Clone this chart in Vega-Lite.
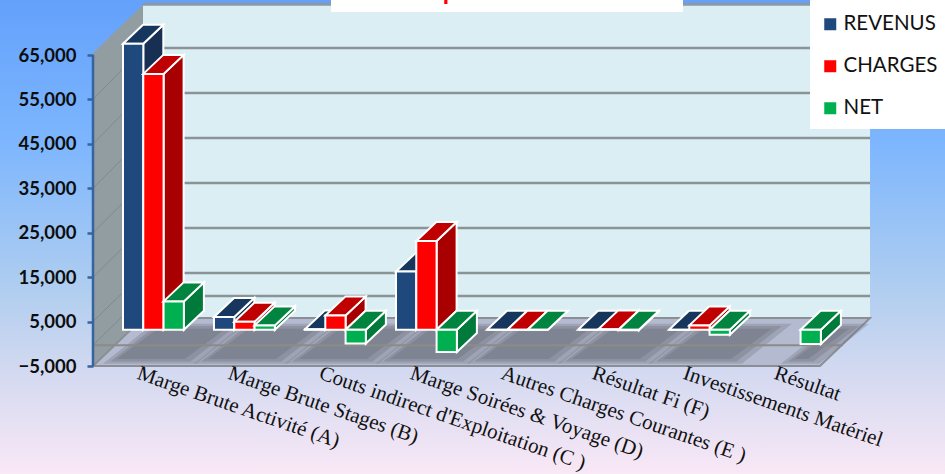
{
"$schema":"https://vega.github.io/schema/vega-lite/v6.json",
"width":945,"height":474,
"autosize":{"type":"none"},
"padding":0,
"datasets":{
"bars":[
{"category":"Marge Brute Activité  (A)","series":"REVENUS","value":64400},
{"category":"Marge Brute Activité  (A)","series":"CHARGES","value":57600},
{"category":"Marge Brute Activité  (A)","series":"NET","value":6400},
{"category":"Marge Brute Stages (B)","series":"REVENUS","value":2900},
{"category":"Marge Brute Stages (B)","series":"CHARGES","value":1800},
{"category":"Marge Brute Stages (B)","series":"NET","value":1000},
{"category":"Couts indirect d'Exploitation (C )","series":"REVENUS","value":100},
{"category":"Couts indirect d'Exploitation (C )","series":"CHARGES","value":3200},
{"category":"Couts indirect d'Exploitation (C )","series":"NET","value":-3100},
{"category":"Marge Soirées & Voyage (D)","series":"REVENUS","value":13100},
{"category":"Marge Soirées & Voyage (D)","series":"CHARGES","value":20000},
{"category":"Marge Soirées & Voyage (D)","series":"NET","value":-5000},
{"category":"Autres Charges Courantes (E )","series":"REVENUS","value":0},
{"category":"Autres Charges Courantes (E )","series":"CHARGES","value":0},
{"category":"Autres Charges Courantes (E )","series":"NET","value":0},
{"category":"Résultat Fi (F)","series":"REVENUS","value":0},
{"category":"Résultat Fi (F)","series":"CHARGES","value":100},
{"category":"Résultat Fi (F)","series":"NET","value":-100},
{"category":"Investissements Matériel","series":"REVENUS","value":0},
{"category":"Investissements Matériel","series":"CHARGES","value":1000},
{"category":"Investissements Matériel","series":"NET","value":-1100},
{"category":"Résultat","series":"NET","value":-3200}
],
"page":[{"x":-1.3516,"x2":9.033,"y":-29300,"y2":77380}],
"wall":[{"x":0.2198,"x2":8.209,"y":5800,"y2":76250}],
"sidewall":[{"x":-0.3297,"y":-5000,"y2":65450},{"x":0.2198,"y":5800,"y2":76250}],
"floor":[{"y":-5000,"x":-0.3297,"x2":7.659},{"y":5800,"x":0.2198,"x2":8.209}],
"grid":[{"y":66580},{"y":56450},{"y":46320},{"y":36190},{"y":26060},{"y":15940},{"y":10760}],
"diag":[
{"t":55000,"x":-0.3297,"y":55000},{"t":55000,"x":0.2198,"y":66580},
{"t":45000,"x":-0.3297,"y":45000},{"t":45000,"x":0.2198,"y":56450},
{"t":35000,"x":-0.3297,"y":35000},{"t":35000,"x":0.2198,"y":46320},
{"t":25000,"x":-0.3297,"y":25000},{"t":25000,"x":0.2198,"y":36190},
{"t":15000,"x":-0.3297,"y":15000},{"t":15000,"x":0.2198,"y":26060},
{"t":5000,"x":-0.3297,"y":5000},{"t":5000,"x":0.2198,"y":15940},
{"t":0,"x":-0.3297,"y":-300},{"t":0,"x":0.2198,"y":10760}
],
"zeroline":[{"x":-0.34,"x2":7.91,"y":-300}],
"topedge":[{"x":0.2198,"x2":8.209,"y":76400}],
"axisline":[{"x":-0.3297,"y":-5000,"y2":65000}],
"titlebox":[{"x":2.286,"x2":6.154,"y":74680,"y2":77380}],
"titletext":[{"label":"Décomposition du Résultat","x":2.626,"y":77300}],
"legendbox":[{"x":7.55,"x2":9.033,"y":48350,"y2":77380}]
},
"layer":[
{"data":{"name":"page"},"mark":{"type":"rect","color":{"gradient":"linear","x1":0,"y1":0,"x2":0,"y2":1,"stops":[{"offset":0,"color":"#63a1fb"},{"offset":0.3,"color":"#7db6fe"},{"offset":0.6,"color":"#aecdf0"},{"offset":0.78,"color":"#d2d9f0"},{"offset":1,"color":"#f9e8f6"}]}},"encoding":{"x2":{"field":"x2"},"y2":{"field":"y2"}}},
{"data":{"name":"wall"},"mark":{"type":"rect","color":"#dbeef3"},"encoding":{"x2":{"field":"x2"},"y2":{"field":"y2"}}},
{"data":{"name":"sidewall"},"mark":{"type":"area","orient":"vertical","color":"#929da2"},"encoding":{"y2":{"field":"y2"}}},
{"data":{"name":"floor"},"mark":{"type":"area","orient":"horizontal","color":"#b4bbd0","stroke":"#8b8f95","strokeWidth":2},"encoding":{"x2":{"field":"x2"}}},
{"data":{"name":"grid"},"mark":{"type":"rule","color":"#8a9497","strokeWidth":2.5},"transform":[{"calculate":"0.2198","as":"x"},{"calculate":"8.209","as":"x2"}],"encoding":{"x2":{"field":"x2"}}},
{"data":{"name":"diag"},"mark":{"type":"line","color":"#7f8a90","strokeWidth":1},"encoding":{"detail":{"field":"t"}}},
{"data":{"name":"topedge"},"mark":{"type":"rule","color":"#8b98a6","strokeWidth":3},"encoding":{"x2":{"field":"x2"}}},
{"data":{"name":"bars"},
 "transform":[
  {"aggregate":[{"op":"count","as":"n"}],"groupby":["category"]},
  {"calculate":"indexof(['Marge Brute Activité  (A)','Marge Brute Stages (B)','Couts indirect d\\'Exploitation (C )','Marge Soirées & Voyage (D)','Autres Charges Courantes (E )','Résultat Fi (F)','Investissements Matériel','Résultat'],datum.category)","as":"idx"},
  {"calculate":"[0,1]","as":"k"},{"flatten":["k"]},
  {"calculate":"datum.idx+(datum.idx==7?0.45:0)","as":"s0"},
  {"calculate":"datum.idx+(datum.idx==7?-0.15:0)","as":"e0"}
 ],
 "layer":[
  {"transform":[{"calculate":"datum.s0-0.22+datum.k*0.55","as":"x"},{"calculate":"datum.e0+0.8+datum.k*0.55","as":"x2"},{"calculate":"-4500+datum.k*9000","as":"y"}],"mark":{"type":"area","orient":"horizontal","color":"#6c707c","opacity":0.3},"encoding":{"x2":{"field":"x2"},"detail":{"field":"idx"}}},
  {"transform":[{"calculate":"datum.s0-0.14+datum.k*0.5","as":"x"},{"calculate":"datum.e0+0.74+datum.k*0.5","as":"x2"},{"calculate":"-4000+datum.k*8000","as":"y"}],"mark":{"type":"area","orient":"horizontal","color":"#6c707c","opacity":0.35},"encoding":{"x2":{"field":"x2"},"detail":{"field":"idx"}}},
  {"transform":[{"calculate":"datum.s0-0.07+datum.k*0.45","as":"x"},{"calculate":"datum.e0+0.68+datum.k*0.45","as":"x2"},{"calculate":"-3400+datum.k*6800","as":"y"}],"mark":{"type":"area","orient":"horizontal","color":"#6c707c","opacity":0.4},"encoding":{"x2":{"field":"x2"},"detail":{"field":"idx"}}}
 ]},
{"data":{"name":"zeroline"},"mark":{"type":"rule","color":"#8b8b88","strokeWidth":2},"encoding":{"x2":{"field":"x2"}}},
{"data":{"name":"bars"},
 "transform":[
  {"calculate":"indexof(['Marge Brute Activité  (A)','Marge Brute Stages (B)','Couts indirect d\\'Exploitation (C )','Marge Soirées & Voyage (D)','Autres Charges Courantes (E )','Résultat Fi (F)','Investissements Matériel','Résultat'],datum.category)","as":"idx"},
  {"calculate":"indexof(['REVENUS','CHARGES','NET'],datum.series)","as":"sidx"},
  {"calculate":"datum.idx+datum.sidx*0.223","as":"u0"},
  {"calculate":"min(datum.value,0)+3150","as":"lo"},
  {"calculate":"max(datum.value,0)+3150","as":"hi"},
  {"calculate":"[0,1]","as":"k"},{"flatten":["k"]},
  {"calculate":"datum.u0+0.223+datum.k*0.22","as":"sx"},
  {"calculate":"datum.lo+datum.k*4276","as":"sy"},
  {"calculate":"datum.hi+datum.k*4276","as":"sy2"},
  {"calculate":"datum.u0+datum.k*0.22","as":"tx"},
  {"calculate":"datum.tx+0.223","as":"tx2"}
 ],
 "layer":[
  {"transform":[{"filter":"datum.series=='REVENUS'"},{"calculate":"datum.sx","as":"x"},{"calculate":"datum.sy","as":"y"},{"calculate":"datum.sy2","as":"y2"}],"mark":{"type":"area","orient":"vertical","color":"#162f52","stroke":"white","strokeWidth":2},"encoding":{"y2":{"field":"y2"},"detail":{"field":"category"}}},
  {"transform":[{"filter":"datum.series=='REVENUS'"},{"calculate":"datum.tx","as":"x"},{"calculate":"datum.tx2","as":"x2"},{"calculate":"datum.sy2","as":"y"}],"mark":{"type":"area","orient":"horizontal","color":"#17365d","stroke":"white","strokeWidth":2},"encoding":{"x2":{"field":"x2"},"detail":{"field":"category"}}},
  {"transform":[{"filter":"datum.series=='REVENUS'&&datum.k==0"},{"calculate":"datum.u0","as":"x"},{"calculate":"datum.u0+0.223","as":"x2"},{"calculate":"datum.lo","as":"y"},{"calculate":"datum.hi","as":"y2"}],"mark":{"type":"rect","stroke":"white","strokeWidth":2},"encoding":{"x2":{"field":"x2"},"y2":{"field":"y2"},"color":{"field":"series","type":"nominal","scale":{"domain":["REVENUS","CHARGES","NET"],"range":["#1f497d","#ff0000","#00b050"]},"legend":{"title":null,"orient":"none","legendX":820,"legendY":14,"padding":0,"symbolType":"square","symbolSize":144,"symbolStrokeWidth":0,"labelFont":"Lato","labelFontSize":20.5,"labelColor":"#111111","labelOffset":3,"rowPadding":21,"labelLimit":200}}}},
  {"transform":[{"filter":"datum.series=='CHARGES'"},{"calculate":"datum.sx","as":"x"},{"calculate":"datum.sy","as":"y"},{"calculate":"datum.sy2","as":"y2"}],"mark":{"type":"area","orient":"vertical","color":"#a80000","stroke":"white","strokeWidth":2},"encoding":{"y2":{"field":"y2"},"detail":{"field":"category"}}},
  {"transform":[{"filter":"datum.series=='CHARGES'"},{"calculate":"datum.tx","as":"x"},{"calculate":"datum.tx2","as":"x2"},{"calculate":"datum.sy2","as":"y"}],"mark":{"type":"area","orient":"horizontal","color":"#c00000","stroke":"white","strokeWidth":2},"encoding":{"x2":{"field":"x2"},"detail":{"field":"category"}}},
  {"transform":[{"filter":"datum.series=='CHARGES'&&datum.k==0"},{"calculate":"datum.u0","as":"x"},{"calculate":"datum.u0+0.223","as":"x2"},{"calculate":"datum.lo","as":"y"},{"calculate":"datum.hi","as":"y2"}],"mark":{"type":"rect","stroke":"white","strokeWidth":2},"encoding":{"x2":{"field":"x2"},"y2":{"field":"y2"},"color":{"field":"series","type":"nominal"}}},
  {"transform":[{"filter":"datum.series=='NET'"},{"calculate":"datum.sx","as":"x"},{"calculate":"datum.sy","as":"y"},{"calculate":"datum.sy2","as":"y2"}],"mark":{"type":"area","orient":"vertical","color":"#007a3a","stroke":"white","strokeWidth":2},"encoding":{"y2":{"field":"y2"},"detail":{"field":"category"}}},
  {"transform":[{"filter":"datum.series=='NET'"},{"calculate":"datum.tx","as":"x"},{"calculate":"datum.tx2","as":"x2"},{"calculate":"datum.sy2","as":"y"}],"mark":{"type":"area","orient":"horizontal","color":"#00843f","stroke":"white","strokeWidth":2},"encoding":{"x2":{"field":"x2"},"detail":{"field":"category"}}},
  {"transform":[{"filter":"datum.series=='NET'&&datum.k==0"},{"calculate":"datum.u0","as":"x"},{"calculate":"datum.u0+0.223","as":"x2"},{"calculate":"datum.lo","as":"y"},{"calculate":"datum.hi","as":"y2"}],"mark":{"type":"rect","stroke":"white","strokeWidth":2},"encoding":{"x2":{"field":"x2"},"y2":{"field":"y2"},"color":{"field":"series","type":"nominal"}}},
  {"transform":[{"filter":"datum.series=='NET'&&datum.k==0"},{"calculate":"datum.idx+0.203","as":"x"},{"calculate":"-4200","as":"y"}],"mark":{"type":"text","align":"left","baseline":"top","angle":19,"font":"Liberation Serif","fontSize":21,"color":"#111111"},"encoding":{"text":{"field":"category"}}}
 ]},
{"data":{"name":"axisline"},"mark":{"type":"rule","color":"#35649f","strokeWidth":2.5},"encoding":{"y2":{"field":"y2"}}},
{"data":{"name":"titlebox"},"mark":{"type":"rect","color":"white"},"encoding":{"x2":{"field":"x2"},"y2":{"field":"y2"}}},
{"data":{"name":"titletext"},"mark":{"type":"text","align":"left","baseline":"alphabetic","font":"Lato","fontWeight":"bold","fontSize":25.5,"color":"#ff0000"},"encoding":{"text":{"field":"label"}}},
{"data":{"name":"legendbox"},"mark":{"type":"rect","color":"white"},"encoding":{"x2":{"field":"x2"},"y2":{"field":"y2"}}}
],
"encoding":{
"x":{"field":"x","type":"quantitative","stack":null,"scale":{"domain":[-1.3516,9.033],"nice":false,"zero":false},"axis":null},
"y":{"field":"y","type":"quantitative","stack":null,"scale":{"domain":[-29300,77380],"nice":false,"zero":false},"axis":{"title":null,"values":[-5000,5000,15000,25000,35000,45000,55000,65000],"labelExpr":"format(datum.value,',.0f')","offset":-93,"grid":false,"domain":false,"tickColor":"#35649f","tickWidth":2.5,"tickSize":6,"labelFont":"Lato","labelFontWeight":"bold","labelFontSize":18.5,"labelColor":"#0d0d0d","labelPadding":11,"zindex":1}}
},
"config":{"view":{"stroke":null},"background":"#7db6fe"}
}
